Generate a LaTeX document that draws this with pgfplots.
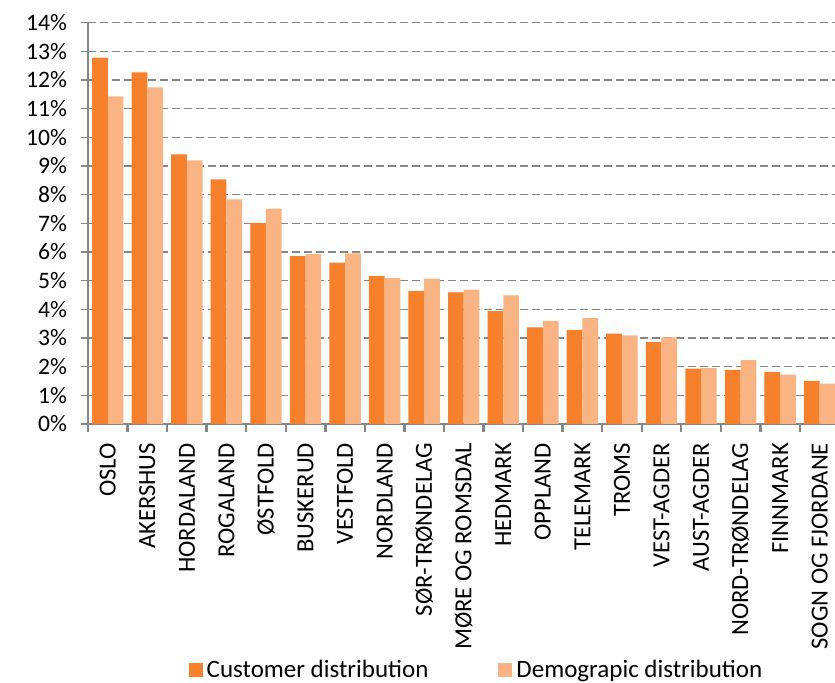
\documentclass[border=0pt]{standalone}
\usepackage{pgfplots}
\pgfplotsset{compat=1.18}
\usepackage{fontspec}
\setmainfont{Carlito}
\definecolor{darkor}{RGB}{246,128,43}
\definecolor{lightor}{RGB}{250,180,131}
\definecolor{axgray}{RGB}{134,134,134}
\begin{document}
\begin{tikzpicture}
\begin{axis}[
  name=ax,
  scale only axis,
  width=373.75pt, height=200.65pt,
  ybar=0pt, bar width=7.85pt,
  xmin=-0.5, xmax=18.4, ymin=0, ymax=14,
  enlargelimits=false,
  axis x line*=bottom, axis y line*=left,
  axis line style={draw=axgray, line width=1.2pt, -},
  xtick={0,...,18},
  xticklabels={OSLO,AKERSHUS,HORDALAND,ROGALAND,ØSTFOLD,BUSKERUD,VESTFOLD,NORDLAND,SØR-TRØNDELAG,MØRE OG ROMSDAL,HEDMARK,OPPLAND,TELEMARK,TROMS,VEST-AGDER,AUST-AGDER,NORD-TRØNDELAG,FINNMARK,SOGN OG FJORDANE},
  minor xtick={-0.5,0.5,...,18.5},
  major x tick style={draw=none},
  minor x tick style={draw=axgray, line width=1.2pt},
  minor tick length=4pt,
  xticklabel style={rotate=90, anchor=east, font=\fontsize{12.3}{13}\selectfont, xshift=-2.5pt},
  ytick={0,...,14},
  yticklabels={0\%,1\%,2\%,3\%,4\%,5\%,6\%,7\%,8\%,9\%,10\%,11\%,12\%,13\%,14\%},
  yticklabel style={font=\fontsize{11.8}{12}\selectfont, xshift=-3.5pt},
  ytick style={draw=axgray, line width=0.8pt},
  major tick length=3.5pt,
  tick align=outside,
  ymajorgrids,
  y grid style={draw=axgray, line width=0.7pt, dash pattern=on 4pt off 2pt},
  legend style={draw=none, fill=none, at={(0.521,-0.613)}, anchor=center,
    legend columns=2, font=\fontsize{12.5}{13}\selectfont,
    /tikz/every even column/.append style={column sep=33pt}},
  legend image code/.code={\fill[#1] (0pt,-3.5pt) rectangle (7pt,3.5pt);},
]
\addplot[fill=darkor, draw=none] coordinates {
(0,12.78) (1,12.27) (2,9.41) (3,8.53) (4,7.02) (5,5.86) (6,5.63) (7,5.17) (8,4.64) (9,4.59)
(10,3.94) (11,3.37) (12,3.28) (13,3.15) (14,2.86) (15,1.93) (16,1.89) (17,1.82) (18,1.50)};
\addplot[fill=lightor, draw=none] coordinates {
(0,11.43) (1,11.74) (2,9.20) (3,7.84) (4,7.51) (5,5.93) (6,5.95) (7,5.09) (8,5.07) (9,4.69)
(10,4.49) (11,3.60) (12,3.69) (13,3.09) (14,3.02) (15,1.95) (16,2.23) (17,1.72) (18,1.41)};
\legend{Customer distribution, Demograpic distribution}
\end{axis}
\pgfresetboundingbox
\path ([xshift=-44pt,yshift=-129.5pt]ax.south west) rectangle ([xshift=-0.25pt,yshift=11.35pt]ax.north east);
\end{tikzpicture}
\end{document}
